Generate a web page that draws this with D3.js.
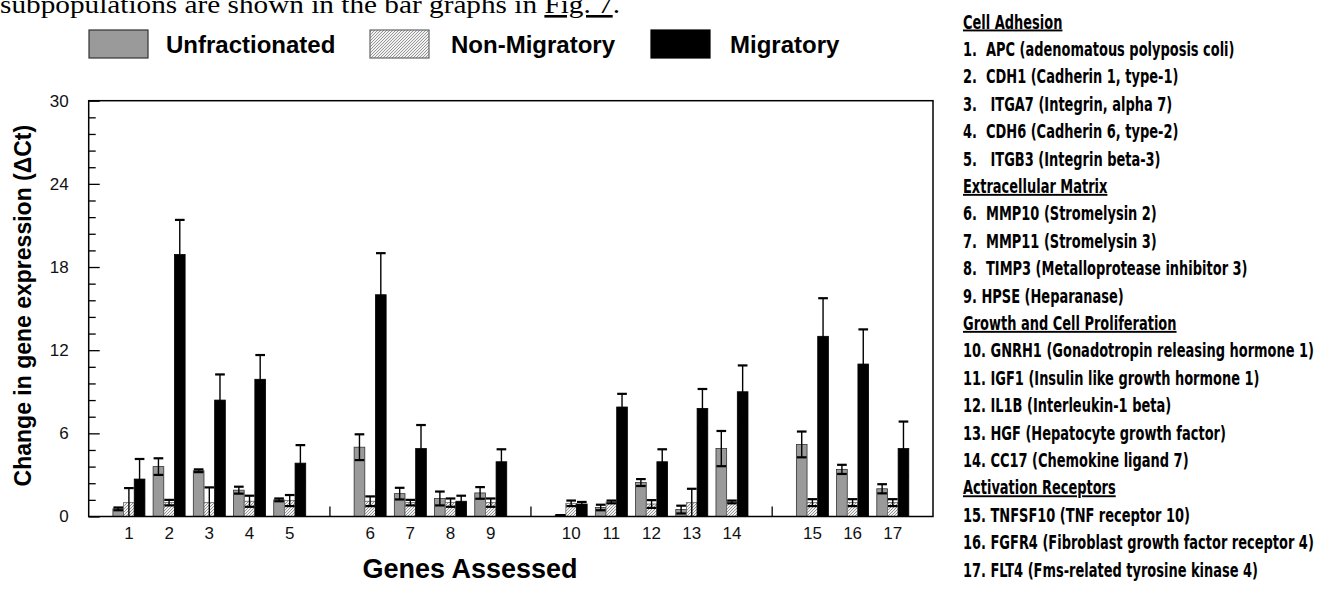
<!DOCTYPE html>
<html>
<head>
<meta charset="utf-8">
<script src="https://cdn.jsdelivr.net/npm/d3@7"></script>
<style>
  body { margin: 0; background: #fff; }
  svg { display: block; font-family: "Liberation Sans", Arial, sans-serif; }
</style>
</head>
<body>
<svg id="chart" width="1321" height="590"></svg>
<script>
// Values (delta Ct, mean and error)
const genes = ["1", "2", "3", "4", "5", "6", "7", "8", "9", "10", "11", "12", "13", "14", "15", "16", "17"];
const groupSizes = [5, 4, 5, 3];
const seriesNames = ["Unfractionated", "Non-Migratory", "Migratory"];

const unfractionated = [0.55, 3.6, 3.3, 1.9, 1.2, 5.0, 1.65, 1.3, 1.7, 0.1, 0.65, 2.45, 0.5, 4.9, 5.2, 3.4, 2.0];
const unfractionatedErr = [0.1, 0.6, 0.1, 0.25, 0.1, 0.93, 0.42, 0.5, 0.42, 0.0, 0.2, 0.25, 0.28, 1.27, 0.93, 0.33, 0.33];
const nonMigratory = [1.0, 1.0, 1.0, 1.1, 1.15, 1.1, 1.0, 1.0, 1.0, 0.95, 1.05, 0.9, 1.0, 1.05, 1.0, 1.0, 1.0];
const nonMigratoryErr = [1.05, 0.2, 1.1, 0.4, 0.4, 0.35, 0.2, 0.3, 0.3, 0.2, 0.1, 0.28, 1.0, 0.1, 0.25, 0.25, 0.25];
const migratory = [2.7, 18.9, 8.4, 9.9, 3.85, 16.0, 4.9, 1.1, 3.95, 0.9, 7.9, 3.95, 7.8, 9.0, 13.0, 11.0, 4.9];
const migratoryErr = [1.45, 2.5, 1.85, 1.75, 1.3, 3.0, 1.7, 0.4, 0.9, 0.15, 0.95, 0.9, 1.4, 1.9, 2.75, 2.5, 1.95];

const yTicks = [0, 6, 12, 18, 24, 30];

const listHeaders = ["Cell Adhesion", "Extracellular Matrix", "Growth and Cell Proliferation", "Activation Receptors"];
const listLines = [
  "Cell Adhesion",
  "1.  APC (adenomatous polyposis coli)",
  "2.  CDH1 (Cadherin 1, type-1)",
  "3.   ITGA7 (Integrin, alpha 7)",
  "4.  CDH6 (Cadherin 6, type-2)",
  "5.   ITGB3 (Integrin beta-3)",
  "Extracellular Matrix",
  "6.  MMP10 (Stromelysin 2)",
  "7.  MMP11 (Stromelysin 3)",
  "8.  TIMP3 (Metalloprotease inhibitor 3)",
  "9. HPSE (Heparanase)",
  "Growth and Cell Proliferation",
  "10. GNRH1 (Gonadotropin releasing hormone 1)",
  "11. IGF1 (Insulin like growth hormone 1)",
  "12. IL1B (Interleukin-1 beta)",
  "13. HGF (Hepatocyte growth factor)",
  "14. CC17 (Chemokine ligand 7)",
  "Activation Receptors",
  "15. TNFSF10 (TNF receptor 10)",
  "16. FGFR4 (Fibroblast growth factor receptor 4)",
  "17. FLT4 (Fms-related tyrosine kinase 4)"
];

const svg = d3.select("#chart");
const plotLeft = 88.7, plotRight = 933, plotTop = 100.7, plotBottom = 516.5;

// hatch for the non-migratory bars
const defs = svg.append("defs");
const hatch = defs.append("pattern")
  .attr("id", "hatch")
  .attr("patternUnits", "userSpaceOnUse")
  .attr("width", 3).attr("height", 3);
hatch.append("rect").attr("width", 3).attr("height", 3).attr("fill", "#f2f2f2");
hatch.append("path")
  .attr("d", "M-1,1 L1,-1 M0,3 L3,0 M2,4 L4,2")
  .attr("stroke", "#8a8a8a").attr("stroke-width", 0.9);

const fills = ["#9a9a9a", "url(#hatch)", "#000"];
const strokes = ["#333", "#666", "#000"];

// slots: genes plus one empty slot between functional groups
let slots = [], k = 0;
groupSizes.forEach((n, gi) => {
  if (gi > 0) slots.push("sep" + gi);
  for (let j = 0; j < n; j++) slots.push(genes[k++]);
});

const x = d3.scaleBand().domain(slots).range([plotLeft, plotRight]).paddingOuter(0.5).paddingInner(0);
const inner = d3.scaleBand().domain(seriesNames)
  .range([x.bandwidth() / 2 - 16, x.bandwidth() / 2 + 16]);
const y = d3.scaleLinear().domain([0, 30]).range([plotBottom, plotTop]);

// top line of running text, cut by the crop
const sentence = svg.append("text")
  .attr("x", 0).attr("y", 13)
  .attr("font-family", "'Liberation Serif', 'Times New Roman', serif")
  .attr("font-size", 26)
  .attr("textLength", 620)
  .attr("lengthAdjust", "spacingAndGlyphs");
sentence.append("tspan").text("subpopulations are shown in the bar graphs in ");
sentence.append("tspan").attr("text-decoration", "underline").text("Fig. 7");
sentence.append("tspan").text(".");

// legend
const legendX = [89, 370, 651];
const legendTextX = [166, 451, 730];
const legend = svg.append("g");
seriesNames.forEach((name, i) => {
  legend.append("rect")
    .attr("x", legendX[i]).attr("y", 30)
    .attr("width", 59).attr("height", 28)
    .attr("fill", fills[i]).attr("stroke", strokes[i]).attr("stroke-width", 1.2);
  legend.append("text")
    .attr("x", legendTextX[i]).attr("y", 53)
    .attr("font-size", 24).attr("font-weight", "bold")
    .text(name);
});

// y axis, ticks pointing into the plot
const minorTicks = d3.range(0, 30.001, 1.2).filter(v => Math.abs(v / 6 - Math.round(v / 6)) > 1e-6);
svg.append("g")
  .attr("transform", `translate(${plotLeft},0)`)
  .call(d3.axisLeft(y).tickValues(minorTicks).tickSizeInner(-7).tickSizeOuter(0).tickFormat(""))
  .call(g => g.select(".domain").remove())
  .selectAll("line").attr("stroke-width", 1.3);

svg.append("g")
  .attr("transform", `translate(${plotLeft},0)`)
  .call(d3.axisLeft(y).tickValues(yTicks).tickSizeInner(-11).tickSizeOuter(0).tickPadding(20))
  .call(g => g.select(".domain").remove())
  .call(g => g.selectAll("line").attr("stroke-width", 1.3))
  .call(g => g.selectAll("text").attr("font-size", 17).attr("fill", "#111"));

// x axis labels
svg.append("g")
  .attr("transform", `translate(0,${plotBottom})`)
  .call(d3.axisBottom(x).tickValues(genes).tickSize(0).tickPadding(10))
  .call(g => g.select(".domain").remove())
  .call(g => g.selectAll("text").attr("font-size", 17).attr("fill", "#111"));

// small marks between the groups
svg.append("g")
  .selectAll("line")
  .data(slots.filter(s => s.startsWith("sep")))
  .join("line")
  .attr("x1", d => x(d) + x.bandwidth() / 2)
  .attr("x2", d => x(d) + x.bandwidth() / 2)
  .attr("y1", y(0)).attr("y2", y(0) - 10)
  .attr("stroke", "#000").attr("stroke-width", 1.3);

// bars
const series = [
  { name: seriesNames[0], vals: unfractionated, errs: unfractionatedErr },
  { name: seriesNames[1], vals: nonMigratory, errs: nonMigratoryErr },
  { name: seriesNames[2], vals: migratory, errs: migratoryErr }
];
let bars = [];
genes.forEach((g, i) => {
  series.forEach((s, si) => bars.push({ gene: g, si: si, name: s.name, v: s.vals[i], e: s.errs[i] }));
});

const bw = inner.bandwidth();
svg.append("g")
  .selectAll("rect")
  .data(bars)
  .join("rect")
  .attr("x", d => x(d.gene) + inner(d.name))
  .attr("y", d => y(d.v))
  .attr("width", bw)
  .attr("height", d => y(0) - y(d.v))
  .attr("fill", d => fills[d.si])
  .attr("stroke", d => strokes[d.si])
  .attr("stroke-width", 0.8);

// error bars (symmetric, lower half hidden in the black bars)
const err = svg.append("g").attr("stroke", "#000");
bars.forEach(d => {
  const cx = x(d.gene) + inner(d.name) + bw / 2;
  const hi = y(d.v + d.e), lo = y(Math.max(0, d.v - d.e));
  err.append("line").attr("x1", cx).attr("x2", cx).attr("y1", hi).attr("y2", lo).attr("stroke-width", 1.4);
  err.append("line").attr("x1", cx - bw / 2 + 0.5).attr("x2", cx + bw / 2 - 0.5)
    .attr("y1", hi).attr("y2", hi).attr("stroke-width", 2.2);
  if (d.v - d.e > 0) {
    err.append("line").attr("x1", cx - bw / 2 + 0.5).attr("x2", cx + bw / 2 - 0.5)
      .attr("y1", lo).attr("y2", lo).attr("stroke-width", 2.2);
  }
});

// frame
svg.append("rect")
  .attr("x", plotLeft).attr("y", plotTop)
  .attr("width", plotRight - plotLeft).attr("height", plotBottom - plotTop)
  .attr("fill", "none").attr("stroke", "#000").attr("stroke-width", 1.5);

// axis titles
svg.append("text")
  .attr("transform", `translate(31,${(plotTop + plotBottom) / 2 - 3}) rotate(-90)`)
  .attr("text-anchor", "middle")
  .attr("font-size", 23).attr("font-weight", "bold")
  .text("Change in gene expression (\u0394Ct)");

svg.append("text")
  .attr("x", 470).attr("y", 578)
  .attr("text-anchor", "middle")
  .attr("font-size", 27).attr("font-weight", "bold")
  .text("Genes Assessed");

// gene list on the right
const list = svg.append("g")
  .attr("font-family", "'Liberation Sans Narrow', 'DejaVu Sans Condensed', sans-serif")
  .attr("font-weight", "bold")
  .attr("font-size", 19);

const items = list.selectAll("text")
  .data(listLines)
  .join("text")
  .attr("xml:space", "preserve")
  .attr("x", 963)
  .attr("y", (d, i) => 28.5 + i * 27.4)
  .attr("text-decoration", d => listHeaders.includes(d) ? "underline" : null)
  .text(d => d);

// squeeze to the condensed look of the original
const longest = items.filter(d => d.startsWith("10.")).node().getComputedTextLength();
const squeeze = 351 / longest;
items.each(function () {
  const w = this.getComputedTextLength();
  d3.select(this).attr("textLength", w * squeeze).attr("lengthAdjust", "spacingAndGlyphs");
});
</script>
</body>
</html>
